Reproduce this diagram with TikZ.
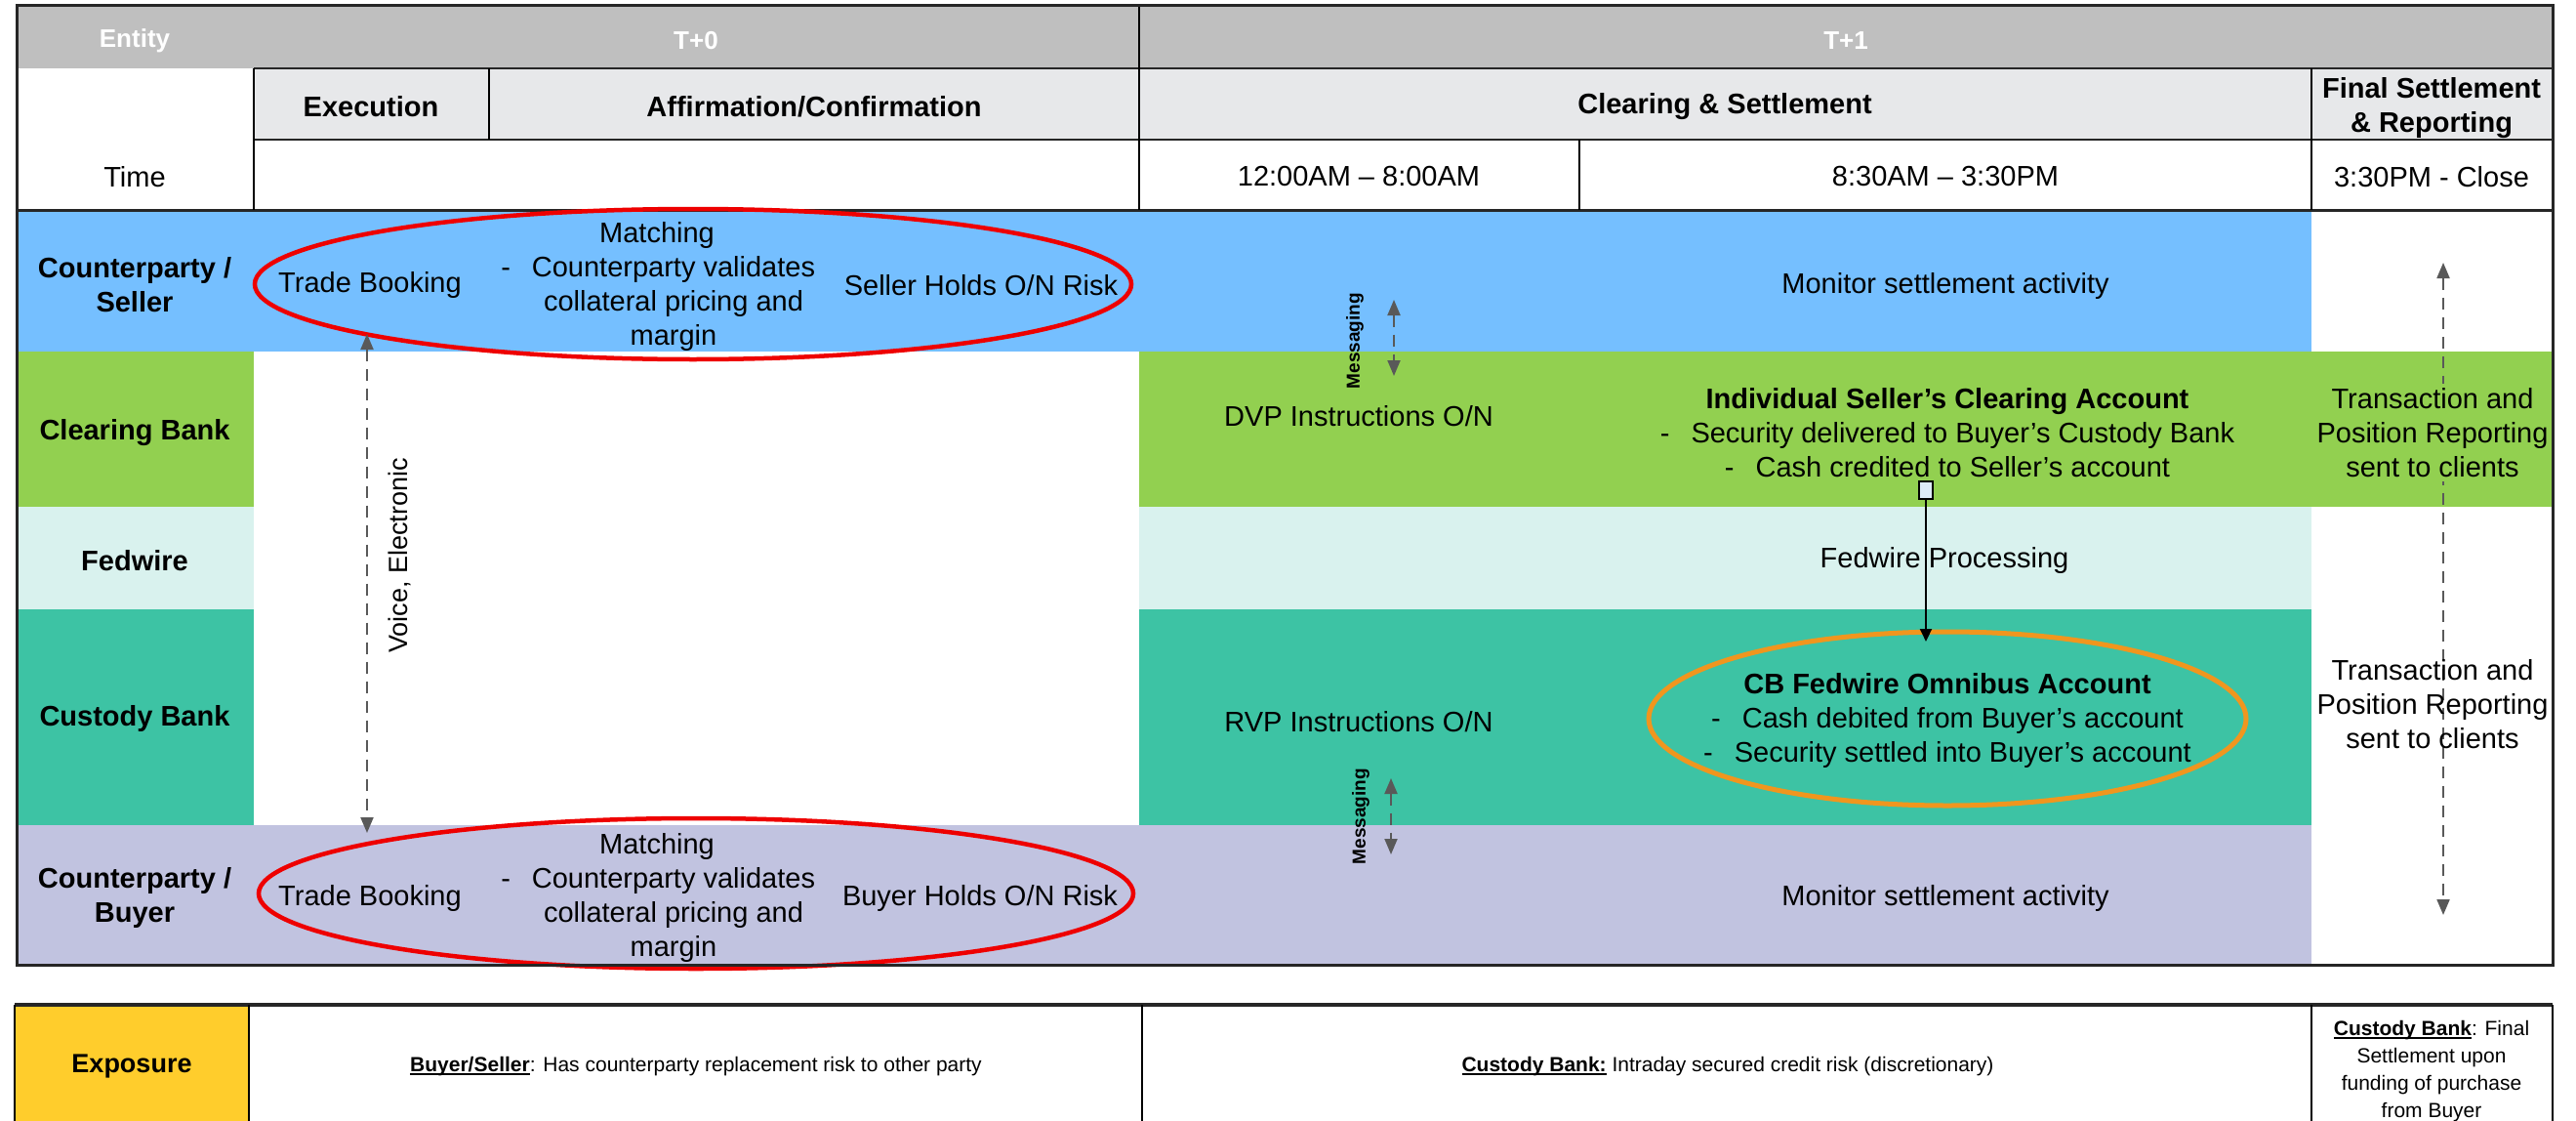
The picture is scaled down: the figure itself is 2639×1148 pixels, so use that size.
\documentclass[tikz,border=0pt]{standalone}
\usepackage{fontspec}
\setmainfont{Liberation Sans}
\usetikzlibrary{arrows.meta,shapes.geometric}
\definecolor{hdrgrey}{HTML}{BFBFBF}
\definecolor{subgrey}{HTML}{E7E8EA}
\definecolor{sellerblue}{HTML}{75BFFF}
\definecolor{clrgreen}{HTML}{92D050}
\definecolor{fedmint}{HTML}{D9F2EE}
\definecolor{custteal}{HTML}{3DC3A4}
\definecolor{buyerlav}{HTML}{C1C3E0}
\definecolor{expyellow}{HTML}{FFCD2C}
\definecolor{ovalred}{HTML}{EE0000}
\definecolor{ovalorange}{HTML}{F0961E}
\definecolor{arrgrey}{HTML}{595959}
\definecolor{sqfill}{HTML}{DDEBF7}
\definecolor{linedark}{HTML}{262626}
\newsavebox{\myulbox}
\newcommand{\ulbf}[1]{\sbox{\myulbox}{\bfseries #1}\rlap{\rule[-4pt]{\wd\myulbox}{2.5pt}}\usebox{\myulbox}}
\tikzset{
  txt/.style={font=\fontsize{29}{35}\selectfont, align=center, inner sep=0pt},
  btxt/.style={font=\fontsize{29}{35}\selectfont\bfseries, align=center, inner sep=0pt},
  htxt/.style={font=\fontsize{26}{31}\selectfont\bfseries, text=white, inner sep=0pt},
  smtxt/.style={font=\fontsize{21}{28}\selectfont, align=center, inner sep=0pt},
  msgtxt/.style={font=\fontsize{19}{22}\selectfont\bfseries, rotate=90, inner sep=0pt},
  voicetxt/.style={font=\fontsize{27}{32}\selectfont, rotate=90, inner sep=0pt},
  thickline/.style={linedark, line width=3pt},
  gridline/.style={linedark, line width=2.5pt},
  thinline/.style={black, line width=2pt},
  redoval/.style={ellipse, draw=ovalred, line width=4.5pt, inner sep=0pt},
  orangeoval/.style={ellipse, draw=ovalorange, line width=5pt, inner sep=0pt},
  greyarrow/.style={arrgrey, line width=2pt, dash pattern=on 12pt off 8pt,
    {Triangle[length=16pt,width=13pt]}-{Triangle[length=16pt,width=13pt]}},
  blackarrow/.style={black, line width=2pt, -{Triangle[length=13pt,width=12pt]}},
  sqbox/.style={draw=black, fill=sqfill, line width=2pt, minimum width=14pt, minimum height=18pt, inner sep=0pt}
}
\begin{document}
\begin{tikzpicture}[x=1pt,y=-1pt]
\useasboundingbox (0,0) rectangle (2639,1148);
% ---------- fills ----------
\fill[hdrgrey] (17,6) rectangle (2615,70);
\fill[subgrey] (260,70) rectangle (2615,143);
\fill[sellerblue] (17,215) rectangle (2368,360);
\fill[clrgreen] (17,360) rectangle (260,519);
\fill[clrgreen] (1167,360) rectangle (2615,519);
\fill[fedmint] (17,519) rectangle (260,624);
\fill[fedmint] (1167,519) rectangle (2368,624);
\fill[custteal] (17,624) rectangle (260,845);
\fill[custteal] (1167,624) rectangle (2368,845);
\fill[buyerlav] (17,845) rectangle (2368,988);
\fill[expyellow] (15,1029) rectangle (255,1148);
% ---------- header grid ----------
\draw[gridline] (260,70) -- (2615,70);
\draw[gridline] (260,143) -- (2615,143);
\draw[thickline] (17,215) -- (2615,215);
\draw[thinline] (260,70) -- (260,215);
\draw[thinline] (501,70) -- (501,143);
\draw[thinline] (1167,6) -- (1167,215);
\draw[thinline] (1618,143) -- (1618,215);
\draw[thinline] (2368,70) -- (2368,215);
% ---------- exposure grid ----------
\draw[linedark, line width=4pt] (15,1029) -- (2615,1029);
\draw[thinline] (15,1029) -- (15,1148);
\draw[thinline] (255,1029) -- (255,1148);
\draw[thinline] (1170,1029) -- (1170,1148);
\draw[thinline] (2368,1029) -- (2368,1148);
\draw[thinline] (2615,1029) -- (2615,1148);
% ---------- header texts ----------
\node[htxt] (hEntity) at (138,42) {Entity};
\node[htxt] (hT0) at (713,42) {T+0};
\node[htxt] (hT1) at (1891,42) {T+1};
\node[btxt] (hExec) at (380,109) {Execution};
\node[btxt] (hAffirm) at (834,109) {Affirmation/Confirmation};
\node[btxt] (hClear) at (1767,109) {Clearing \& Settlement};
\node[btxt] (hFinal) at (2491,111) {Final Settlement\\\& Reporting};
\node[txt] (tTime) at (138,181) {Time};
\node[txt] (tOne) at (1392,181) {12:00AM – 8:00AM};
\node[txt] (tTwo) at (1993,181) {8:30AM – 3:30PM};
\node[txt] (tThree) at (2491,181) {3:30PM - Close};
% ---------- entity labels ----------
\node[btxt] (eSeller) at (138,292) {Counterparty /\\Seller};
\node[btxt] (eClear) at (138,443) {Clearing Bank};
\node[btxt] (eFed) at (138,574) {Fedwire};
\node[btxt] (eCust) at (138,736) {Custody Bank};
\node[btxt] (eBuyer) at (138,919) {Counterparty /\\Buyer};
% ---------- ovals ----------
\node[redoval, minimum width=898pt, minimum height=154pt] (sellOval) at (710,291) {};
\node[redoval, minimum width=896pt, minimum height=154pt] (buyOval) at (713,915) {};
\node[orangeoval, minimum width=612pt, minimum height=178pt] (omniOval) at (1995,736) {};
% ---------- arrows ----------
\coordinate (voiceTop) at (376,342);
\coordinate (voiceBot) at (376,853);
\draw[greyarrow] (voiceTop) -- (voiceBot);
\node[voicetxt] (voiceLbl) at (409,569) {Voice, Electronic};
\coordinate (msgATop) at (1428,307);
\coordinate (msgABot) at (1428,385);
\draw[greyarrow] (msgATop) -- (msgABot);
\node[msgtxt] (msgALbl) at (1388,349) {Messaging};
\coordinate (msgBTop) at (1425,797);
\coordinate (msgBBot) at (1425,875);
\draw[greyarrow] (msgBTop) -- (msgBBot);
\node[msgtxt] (msgBLbl) at (1394,836) {Messaging};
\coordinate (repTop) at (2503,269);
\coordinate (repBot) at (2503,937);
\draw[greyarrow] (repTop) -- (repBot);
\node[sqbox] (sq) at (1973,502) {};
\coordinate (omniTip) at (1973,657);
\draw[blackarrow] (sq.south) -- (omniTip);
% ---------- seller row ----------
\node[txt] (sBook) at (379,292) {Trade Booking};
\node[txt] (sMatch) at (690,293) {\hspace*{-34pt}Matching\\\llap{-\hspace{22pt}}Counterparty validates\\collateral pricing and\\margin};
\node[txt] (sRisk) at (1005,292) {Seller Holds O/N Risk};
\node[txt] (sMon) at (1993,293) {Monitor settlement activity};
% ---------- clearing row ----------
\node[txt] (dvp) at (1392,426) {DVP Instructions O/N};
\node[txt] (clrAcct) at (1995,443) {\textbf{Individual Seller’s Clearing Account}\\-\hspace{22pt}Security delivered to Buyer’s Custody Bank\\-\hspace{22pt}Cash credited to Seller’s account};
\node[txt, fill=clrgreen, inner ysep=4pt] (repUp) at (2492,443) {Transaction and\\Position Reporting\\sent to clients};
% ---------- fedwire row ----------
\node[txt] (fedProc) at (1992,574) {Fedwire Processing};
% ---------- custody row ----------
\node[txt] (rvp) at (1392,739) {RVP Instructions O/N};
\node[txt] (omniTxt) at (1995,738) {\textbf{CB Fedwire Omnibus Account}\\-\hspace{22pt}Cash debited from Buyer’s account\\-\hspace{22pt}Security settled into Buyer’s account};
\node[txt] (repLow) at (2492,721) {Transaction and\\Position Reporting\\sent to clients};
% ---------- buyer row ----------
\node[txt] (bBook) at (379,920) {Trade Booking};
\node[txt] (bMatch) at (690,919) {\hspace*{-34pt}Matching\\\llap{-\hspace{22pt}}Counterparty validates\\collateral pricing and\\margin};
\node[txt] (bRisk) at (1004,920) {Buyer Holds O/N Risk};
\node[txt] (bMon) at (1993,920) {Monitor settlement activity};
% ---------- exposure ----------
\node[font=\fontsize{27}{32}\selectfont\bfseries, inner sep=0pt] (expLbl) at (135,1092) {Exposure};
\node[smtxt] (expA) at (713,1092) {\ulbf{Buyer/Seller}: Has counterparty replacement risk to other party};
\node[smtxt] (expB) at (1770,1092) {\ulbf{Custody Bank:} Intraday secured credit risk (discretionary)};
\node[smtxt] (expC) at (2491,1097) {\ulbf{Custody Bank}: Final\\Settlement upon\\funding of purchase\\from Buyer};
% ---------- outer border ----------
\draw[thickline] (17,6) rectangle (2615,988);
\end{tikzpicture}
\end{document}
